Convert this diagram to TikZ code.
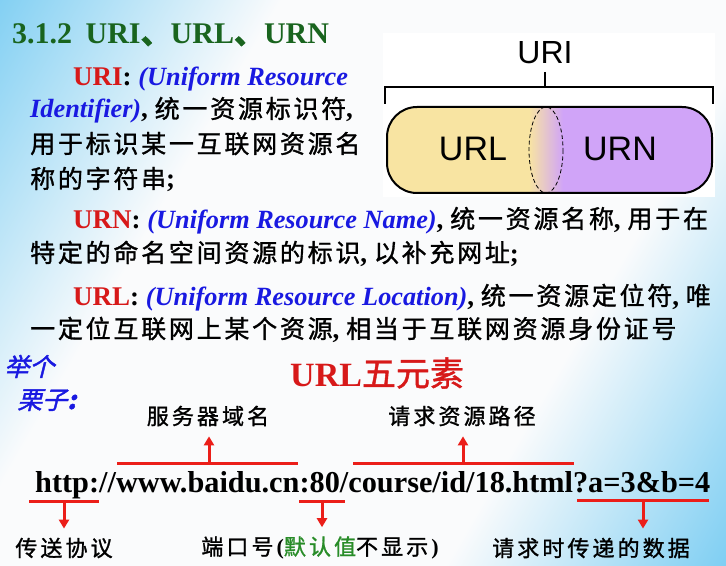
\documentclass[tikz,border=0pt]{standalone}
\usepackage{fontspec}
\setmainfont{Liberation Serif}
\setsansfont{Liberation Sans}
\newfontfamily\cjk[LetterSpace=11,FakeBold=1.2]{Noto Sans CJK SC}
\newfontfamily\cjksm[LetterSpace=14,FakeBold=1.2]{Noto Sans CJK SC}
\newfontfamily\cjkplain[FakeBold=1.2]{Noto Sans CJK SC}
\newfontfamily\cjkit[FakeSlant=0.25,FakeBold=1.5]{Noto Sans CJK SC}
\usetikzlibrary{arrows.meta}
\definecolor{bgb}{RGB}{95,195,240}
\definecolor{bgw}{RGB}{250,251,252}
\definecolor{ttlgreen}{RGB}{25,100,30}
\definecolor{myred}{RGB}{215,25,25}
\definecolor{myblue}{RGB}{25,25,225}
\definecolor{arrred}{RGB}{235,30,25}
\definecolor{mygreen}{RGB}{40,140,40}
\definecolor{pillyel}{RGB}{248,228,162}
\definecolor{pillpur}{RGB}{208,164,248}
\pgfdeclareverticalshading{bgsh}{100bp}{color(0bp)=(bgb); color(11bp)=(bgb); color(34bp)=(bgw); color(66bp)=(bgw); color(90bp)=(bgb); color(100bp)=(bgb)}
\newcommand\cj[1]{{\cjk\mdseries\fontsize{25bp}{28bp}\selectfont #1}}
\newcommand\cjs[1]{{\cjksm\mdseries\fontsize{22bp}{26bp}\selectfont #1}}
\newcommand\bl[1]{\textcolor{myblue}{\bfseries\itshape\fontsize{26.3bp}{30bp}\selectfont #1}}
\newcommand\rd[1]{\textcolor{myred}{#1}}
\tikzset{
  body/.style={anchor=base west, inner sep=0pt, font=\bfseries\fontsize{27bp}{30bp}\selectfont},
  lab/.style={inner sep=0pt, font=\fontsize{22bp}{26bp}\selectfont},
  redline/.style={draw=arrred, line width=3bp},
  redarrow/.style={redline, -{Triangle[width=10bp,length=9bp]}},
  sans/.style={font=\sffamily\fontsize{#1}{#1}\selectfont, inner sep=0pt}
}
\begin{document}
\begin{tikzpicture}[x=1bp,y=-1bp]
\useasboundingbox (0,0) rectangle (726,566);
\shade[shading=bgsh, shading angle=60] (0,0) rectangle (726,566);

% title
\node[anchor=base west, inner sep=0pt, text=ttlgreen, font=\bfseries\fontsize{30bp}{34bp}\selectfont] (title) at (12,44)
  {3.1.2\hspace{0.45em}URI{\cjkplain 、}URL{\cjkplain 、}URN};

% URI text
\node[body] (l1) at (73,86) {\rd{URI}: \bl{(Uniform Resource}};
\node[body] (l2) at (30,118) {\bl{Identifier)}, \cj{统一资源标识符},};
\node[body] (l3) at (30,153) {\cj{用于标识某一互联网资源名}};
\node[body] (l4) at (30,188) {\cj{称的字符串};};

% URN / URL text
\node[body] (l5) at (73,228) {\rd{URN}: \bl{(Uniform Resource Name)}, \cj{统一资源名称}, \cj{用于在}};
\node[body] (l6) at (30,262) {\cj{特定的命名空间资源的标识}, \cj{以补充网址};};
\node[body] (l7) at (73,305) {\rd{URL}: \bl{(Uniform Resource Location)}, \cj{统一资源定位符}, \cj{唯}};
\node[body] (l8) at (30,338) {\cj{一定位互联网上某个资源}, \cj{相当于互联网资源身份证号}};

% right diagram
\fill[white] (383,33) rectangle (715,197);
\node[sans=32bp] (uri) at (545,53) {URI};
\draw[line width=2bp] (545,72) -- (545,87);
\draw[line width=2bp] (385,104) -- (385,87) -- (713,87) -- (713,104);
\begin{scope}
  \clip[rounded corners=30bp] (387,107) rectangle (712,193);
  \fill[pillyel] (387,107) rectangle (546,193);
  \fill[pillpur] (546,107) rectangle (712,193);
  \shade[left color=pillyel, right color=pillpur] (529,107) rectangle (563,193);
\end{scope}
\draw[line width=0.8bp, dash pattern=on 4bp off 2.5bp] (546,150) ellipse [x radius=17, y radius=43];
\draw[line width=2bp, rounded corners=30bp] (387,107) rectangle (712,193);
\node[sans=34bp] (urlbox) at (473,149) {URL};
\node[sans=34bp] (urnbox) at (620,149) {URN};

% example
\node[anchor=base west, inner sep=0pt, text=myblue, font=\cjkit\fontsize{25bp}{28bp}\selectfont] (ex1) at (4,376) {举个};
\node[anchor=base west, inner sep=0pt, text=myblue, font=\cjkit\fontsize{25bp}{28bp}\selectfont] (ex2) at (17,409) {栗子\textbf{:}};
\node[anchor=base west, inner sep=0pt, text=myred, font=\bfseries\fontsize{34bp}{38bp}\selectfont] (five) at (290,386) {URL{\cjkplain\mdseries 五元素}};

\node[lab] (srv) at (208,416) {\cjs{服务器域名}};
\node[lab] (path) at (462,416) {\cjs{请求资源路径}};

\node[anchor=base west, inner sep=0pt, font=\bfseries\fontsize{30.3bp}{34bp}\selectfont] (url) at (35,492)
  {http://www.baidu.cn:80/course/id/18.html?a=3\&b=4};

\coordinate (s1) at (117,463); \coordinate (s2) at (298,463); \coordinate (sm) at (209,463);
\coordinate (p1) at (353,463); \coordinate (p2) at (574,463); \coordinate (pm) at (463,463);
\coordinate (h1) at (29,501); \coordinate (h2) at (99,501); \coordinate (hm) at (64,501);
\coordinate (o1) at (299,501); \coordinate (o2) at (345,501); \coordinate (om) at (322,501);
\coordinate (d1) at (577,500); \coordinate (d2) at (709,500); \coordinate (dm) at (643,500);

\node[lab] (proto) at (64,548) {\cjs{传送协议}};
\node[lab] (port) at (320,548) {\cjs{端口号}\textbf{(}\textcolor{mygreen}{\cjs{默认值}}\cjs{不显示}\textbf{)}};
\node[lab] (data) at (591,548) {\cjs{请求时传递的数据}};

\draw[redline] (s1) -- (s2);
\draw[redline] (p1) -- (p2);
\draw[redline] (h1) -- (h2);
\draw[redline] (o1) -- (o2);
\draw[redline] (d1) -- (d2);
\draw[redarrow, shorten >=10bp] (sm) -- (sm |- srv.south);
\draw[redarrow, shorten >=10bp] (pm) -- (pm |- path.south);
\draw[redarrow, shorten >=9bp] (hm) -- (hm |- proto.north);
\draw[redarrow, shorten >=9bp] (om) -- (om |- port.north);
\draw[redarrow, shorten >=9bp] (dm) -- (dm |- data.north);
\end{tikzpicture}
\end{document}
